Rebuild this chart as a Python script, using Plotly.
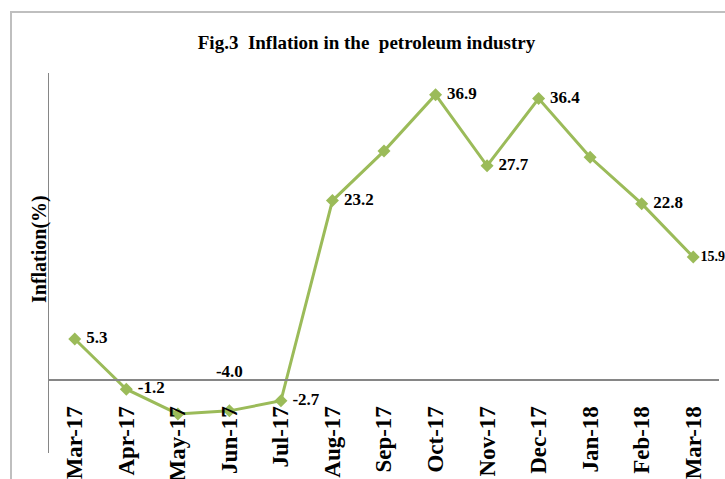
import plotly.graph_objects as go

months = ["Mar-17", "Apr-17", "May-17", "Jun-17", "Jul-17", "Aug-17", "Sep-17",
          "Oct-17", "Nov-17", "Dec-17", "Jan-18", "Feb-18", "Mar-18"]
inflation = [5.3, -1.2, -4.4, -4.0, -2.7, 23.2, 29.6, 36.9, 27.7, 36.4, 28.8, 22.8, 15.9]
labels = ["\u00a05.3", "\u00a0-1.2", "", "-4.0<br>\u00a0", "\u00a0-2.7", "\u00a023.2", "",
          "\u00a036.9", "\u00a027.7", "\u00a036.4", "", "\u00a022.8", "15.9"]
label_pos = ["middle right", "middle right", "middle right", "top center", "middle right",
             "middle right", "middle right", "middle right", "middle right", "middle right",
             "middle right", "middle right", "middle right"]
label_size = [17, 17, 17, 17, 17, 17, 17, 17, 17, 17, 17, 17, 14]

y_min, y_max = -9.45, 39.7
W, H = 725, 479
ml, mr, mt, mb = 49, 6, 73, 26
pw, ph = W - ml - mr, H - mt - mb

serif = "Liberation Serif, Times New Roman, serif"
green = "#9BBB59"

fig = go.Figure()
fig.add_trace(go.Scatter(
    x=months, y=inflation, mode="lines+markers+text",
    line=dict(color=green, width=3),
    marker=dict(symbol="diamond", size=10, color=green),
    text=labels, textposition=label_pos,
    textfont=dict(family=serif, size=label_size, color="black", weight="bold"),
    cliponaxis=False, showlegend=False,
))

zero_pos = (0 - y_min) / (y_max - y_min)

fig.update_layout(
    width=W, height=H,
    margin=dict(l=ml, r=mr, t=mt, b=mb, pad=0, autoexpand=False),
    paper_bgcolor="white", plot_bgcolor="white",
    title=dict(text="Fig.3\u00a0 Inflation in the\u00a0 petroleum industry",
               font=dict(family=serif, size=19, color="black", weight="bold"),
               x=366.5 / W, xref="container", xanchor="center",
               y=1 - 42 / H, yref="container", yanchor="middle"),
    xaxis=dict(type="category", anchor="free", position=zero_pos,
               automargin=False,
               showline=True, linecolor="#868686", linewidth=2,
               showgrid=False, zeroline=False,
               ticks="outside", ticklen=16, tickcolor="rgba(0,0,0,0)",
               tickangle=-90,
               tickfont=dict(family=serif, size=23, color="black", weight="bold"),
               range=[-0.5, len(months) - 0.5]),
    yaxis=dict(range=[y_min, y_max], showticklabels=False, showgrid=False,
               automargin=False,
               zeroline=False, showline=True, linecolor="#868686", linewidth=1,
               ticks=""),
    annotations=[dict(text="Inflation(%)", textangle=-90,
                      x=(39 - ml) / pw, y=(H - mb - 249) / ph,
                      xref="paper", yref="paper", showarrow=False,
                      xanchor="center", yanchor="middle",
                      font=dict(family=serif, size=20, color="black", weight="bold"))],
    shapes=[dict(type="rect", xref="paper", yref="paper",
                 x0=(11 - ml) / pw, x1=(W + 30 - ml) / pw,
                 y0=(H - mb - (H + 30)) / ph, y1=(H - mb - 12) / ph,
                 line=dict(color="#BFBFBF", width=2), layer="below")],
)

fig.write_html("out.html")
